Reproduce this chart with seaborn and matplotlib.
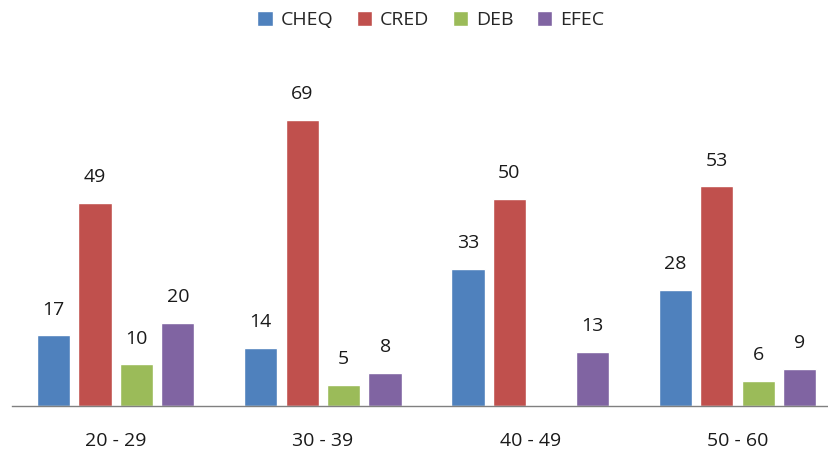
import numpy as np
import pandas as pd
import matplotlib
matplotlib.use("Agg")
import matplotlib.pyplot as plt
import seaborn as sns

groups = ["20 - 29", "30 - 39", "40 - 49", "50 - 60"]
series = ["CHEQ", "CRED", "DEB", "EFEC"]
cheq = [17, 14, 33, 28]
cred = [49, 69, 50, 53]
deb = [10, 5, np.nan, 6]
efec = [20, 8, 13, 9]
colors = ["#4F81BD", "#C0504D", "#9BBB59", "#8064A2"]

rows = []
for name, vals in zip(series, [cheq, cred, deb, efec]):
    for g, v in zip(groups, vals):
        rows.append({"grupo": g, "tipo": name, "valor": v})
df = pd.DataFrame(rows)

sns.set_theme(style="white")
plt.rcParams["font.family"] = ["Open Sans", "DejaVu Sans"]

fig = plt.figure(figsize=(8.29, 4.54), dpi=100)
ax = fig.add_axes([0.0145, 0.106, 1.0, 0.73])

sns.barplot(data=df, x="grupo", y="valor", hue="tipo", order=groups,
            hue_order=series, palette=colors, width=0.8, gap=0.2,
            saturation=1, errorbar=None, ax=ax)

for cont in ax.containers:
    labels = ["" if np.isnan(v) else f"{v:.0f}" for v in cont.datavalues]
    ax.bar_label(cont, labels=labels, padding=12, fontsize=14, color="#1a1a1a")

ax.set_ylim(0, 80)
ax.set_xlim(-0.5, 3.5)
ax.set_xlabel("")
ax.set_ylabel("")
ax.set_yticks([])
for s in ["top", "right", "left"]:
    ax.spines[s].set_visible(False)
ax.spines["bottom"].set_color("#808080")
ax.spines["bottom"].set_linewidth(1)
ax.tick_params(axis="x", labelsize=14, pad=19, length=0, colors="#1a1a1a")

# leyenda arriba, centrada en la figura
sns.move_legend(ax, "center", bbox_to_anchor=(0.505, 1.165),
                ncol=4, frameon=False, title=None, fontsize=14,
                handlelength=0.8, handleheight=0.8, columnspacing=1.2,
                handletextpad=0.4)

fig.savefig("out.png", dpi=100)
